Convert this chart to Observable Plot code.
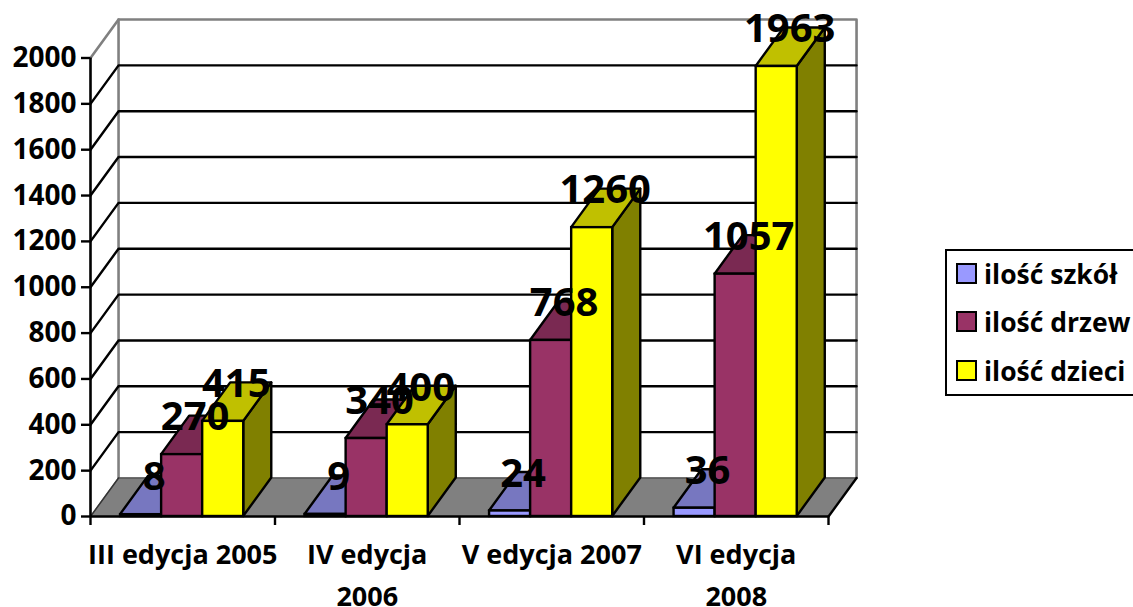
<!DOCTYPE html>
<html>
<head>
<meta charset="utf-8">
<script src="https://cdn.jsdelivr.net/npm/d3@7"></script>
<script src="https://cdn.jsdelivr.net/npm/@observablehq/plot@0.6"></script>
<style>
  html, body { margin: 0; padding: 0; background: #fff; overflow: hidden; }
  #wrap { position: relative; width: 1133px; height: 607px; overflow: hidden; font-family: "Open Sans", sans-serif; }
  #wrap svg { display: block; max-width: none; }
  #legend { position: absolute; left: 945px; top: 249px; width: 200px; height: 147px; border: 2.5px solid #000; box-sizing: border-box; background: #fff; }
  #legend .item { position: absolute; left: 0; font-weight: 700; font-size: 26.5px; line-height: 30px; color: #000; white-space: nowrap; }
  #legend .sw { position: absolute; left: 9px; top: 4px; width: 21px; height: 21px; border: 2.5px solid #000; box-sizing: border-box; }
  #legend .lb { position: absolute; left: 37px; top: 0; }
</style>
</head>
<body>
<div id="wrap"></div>
<script>
const categories = ["III edycja 2005", "IV edycja\n2006", "V edycja 2007", "VI edycja\n2008"];
const seriesNames = ["ilość szkół", "ilość drzew", "ilość dzieci"];
const szkol = [8, 9, 24, 36];
const drzew = [270, 340, 768, 1057];
const dzieci = [415, 400, 1260, 1963];
const yTicks = [0, 200, 400, 600, 800, 1000, 1200, 1400, 1600, 1800, 2000];
const innerGrid = [200, 400, 600, 800, 1000, 1200, 1400, 1600, 1800];
const categoryTicks = [0, 1, 2, 3, 4];

const frontColors = ["#9999FF", "#993366", "#FFFF00"];
const topColors = ["#7777C0", "#7A2952", "#C0C000"];
const sideColors = ["#4D4D80", "#4D1933", "#808000"];

// Depth of the pseudo-3D box, in data units of each scale
const DX = 0.152;
const DY = 168;
const BAR_START = 0.163;
const BAR_W = 0.2225;
const STROKE = 2.4;
const FONT = "Open Sans";

const seriesValues = [szkol, drzew, dzieci];
const left = (c, s) => c + BAR_START + s * BAR_W;

// Wall / floor / grid marks
const floorRows = [
  {x1: 0, x2: 4, y: 0},
  {x1: DX, x2: 4 + DX, y: DY}
];
const gridRows = innerGrid.flatMap(v => [
  {x: 0, y: v, v},
  {x: DX, y: v + DY, v},
  {x: 4 + DX, y: v + DY, v}
]);
const marks = [
  Plot.areaX(floorRows, {x1: "x1", x2: "x2", y: "y", fill: "#808080"}),
  Plot.line([
    {x: 0, y: 2000}, {x: DX, y: 2000 + DY}, {x: 4 + DX, y: 2000 + DY}, {x: 4 + DX, y: DY}
  ], {x: "x", y: "y", stroke: "#808080", strokeWidth: 2.6}),
  Plot.line([{x: DX, y: DY}, {x: DX, y: 2000 + DY}], {x: "x", y: "y", stroke: "#808080", strokeWidth: 2.6}),
  Plot.line([{x: DX, y: DY}, {x: 4 + DX, y: DY}], {x: "x", y: "y", stroke: "#555", strokeWidth: 1.5}),
  Plot.line(gridRows, {x: "x", y: "y", z: "v", stroke: "#000", strokeWidth: STROKE}),
  Plot.line([{x: 0, y: 0}, {x: DX, y: DY}], {x: "x", y: "y", stroke: "#333", strokeWidth: 1.5}),
  Plot.line([{x: 4, y: 0}, {x: 4 + DX, y: DY}], {x: "x", y: "y", stroke: "#000", strokeWidth: STROKE})
];

// Bars: side + top + front for each series in each category
categories.forEach((_, c) => {
  seriesValues.forEach((vals, s) => {
    const v = vals[c];
    const xl = left(c, s);
    const xr = xl + BAR_W;
    marks.push(
      Plot.areaY([{x: xr, y1: 0, y2: v}, {x: xr + DX, y1: DY, y2: v + DY}],
        {x: "x", y1: "y1", y2: "y2", fill: sideColors[s], stroke: "#000", strokeWidth: STROKE}),
      Plot.areaX([{x1: xl, x2: xr, y: v}, {x1: xl + DX, x2: xr + DX, y: v + DY}],
        {x1: "x1", x2: "x2", y: "y", fill: topColors[s], stroke: "#000", strokeWidth: STROKE}),
      Plot.rect([{x1: xl, x2: xr, y1: 0, y2: v}],
        {x1: "x1", x2: "x2", y1: "y1", y2: "y2", fill: frontColors[s], stroke: "#000", strokeWidth: STROKE})
    );
  });
});

// Axes
marks.push(
  Plot.ruleX([0], {y1: 0, y2: 2000, stroke: "#000", strokeWidth: 2.6}),
  Plot.ruleY([0], {x1: 0, x2: 4, stroke: "#000", strokeWidth: 2.6}),
  Plot.axisY({
    ticks: yTicks, anchor: "left", label: null, tickSize: 9, tickPadding: 5,
    stroke: "#000", strokeWidth: 2.4, fill: "#000",
    fontSize: 28, fontWeight: 700, fontFamily: FONT, tickFormat: d => String(d)
  }),
  Plot.axisX({
    ticks: categoryTicks, anchor: "bottom", label: null, tickSize: 9, tickFormat: () => "",
    stroke: "#000", strokeWidth: 2.4
  }),
  Plot.text(categories, {
    x: (d, i) => i + 0.5, y: 0, text: d => d, dy: 18, lineAnchor: "top",
    lineHeight: 1.55, fontSize: 27, fontWeight: 700, fontFamily: FONT, fill: "#000"
  })
);

// Value labels, sitting on the rear top edge of each bar
const labelRows = seriesValues.flatMap((vals, s) => vals.map((v, c) => ({
  x: left(c, s) + BAR_W / 2 + DX / 2, y: v + DY, v
})));
marks.push(Plot.text(labelRows, {
  x: "x", y: "y", dx: -1, dy: 1.5, text: d => String(d.v), fontSize: 40, fontWeight: 700, fontFamily: FONT, fill: "#000", textAnchor: "middle"
}));

const chart = Plot.plot({
  width: 1133, height: 607,
  marginLeft: 90, marginRight: 305, marginTop: 57.5, marginBottom: 91,
  x: {domain: [0, 4], axis: null},
  y: {domain: [0, 2000], axis: null},
  style: {background: "#fff", overflow: "visible"},
  marks
});
const wrap = document.getElementById("wrap");
wrap.appendChild(chart);

const legend = document.createElement("div");
legend.id = "legend";
seriesNames.forEach((name, i) => {
  const item = document.createElement("div");
  item.className = "item";
  item.style.top = (7.5 + i * 48.5) + "px";
  const sw = document.createElement("span");
  sw.className = "sw";
  sw.style.background = frontColors[i];
  const lb = document.createElement("span");
  lb.className = "lb";
  lb.textContent = name;
  item.append(sw, lb);
  legend.appendChild(item);
});
wrap.appendChild(legend);
</script>
</body>
</html>
